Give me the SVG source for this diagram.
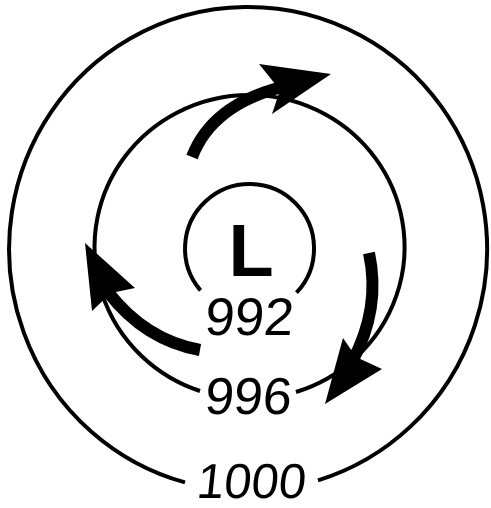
<svg xmlns="http://www.w3.org/2000/svg" width="491" height="508" viewBox="0 0 491 508">
<style>
.iso{fill:none;stroke:#000;stroke-width:4}
.shaft{fill:none;stroke:#000;stroke-width:12;stroke-linecap:butt}
.head{fill:#000;stroke:none}
.num{font-family:"Liberation Sans",Arial,sans-serif;fill:#000;text-anchor:middle}
</style>
<rect width="491" height="508" fill="#fff"/>
<g id="isobar-1000">
<path class="iso" d="M318,480.4 A239,242 0 1 0 185,482.4"/>
<text class="num" transform="translate(250 498) skewX(-6)" font-size="49">1000</text>
</g>
<g id="isobar-996">
<path class="iso" d="M296,392 A155,152 0 1 0 200,391"/>
<text class="num" transform="translate(247 414) skewX(-5)" font-size="52">996</text>
</g>
<g id="isobar-992">
<path class="iso" d="M296.5,292.7 A64.5,64.5 0 1 0 200.5,290.4"/>
<text class="num" transform="translate(248 335) skewX(-5)" font-size="53">992</text>
</g>
<g id="low">
<text x="251" y="276" font-family="Liberation Sans,Arial,sans-serif" font-weight="bold" font-size="74" text-anchor="middle">L</text>
</g>
<g id="arrows">
<path class="shaft" d="M192,157 Q212,105 282,87"/>
<polygon class="head" points="259,64 331,74 272,114 280,90"/>
<path class="shaft" d="M200,350 Q145,340 108,292"/>
<polygon class="head" points="85,243 135,288 111,293 92,311"/>
<path class="shaft" d="M369,253 C377,290 372,325 352,362"/>
<polygon class="head" points="325,404 343,338 356,357 382,369"/>
</g>
</svg>
